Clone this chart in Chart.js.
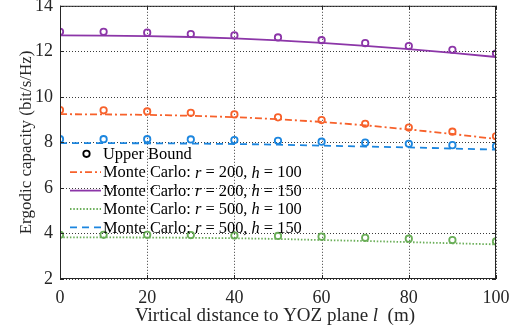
<!DOCTYPE html>
<html>
<head>
<meta charset="utf-8">
<script src="https://cdn.jsdelivr.net/npm/chart.js@4/dist/chart.umd.min.js"></script>
<style>
  html, body { margin: 0; padding: 0; background: #fff; }
  canvas { display: block; }
</style>
</head>
<body>
<canvas id="capacity-chart" width="515" height="335"></canvas>
<script>
// Vertical distance l (m)
const distance = [0, 10, 20, 30, 40, 50, 60, 70, 80, 90, 100];

// Upper bound (markers)
const boundR200H100 = [9.42, 9.41, 9.36, 9.30, 9.23, 9.10, 8.98, 8.82, 8.65, 8.47, 8.27];
const boundR200H150 = [12.86, 12.86, 12.82, 12.76, 12.70, 12.61, 12.49, 12.36, 12.23, 12.07, 11.90];
const boundR500H100 = [3.94, 3.94, 3.94, 3.93, 3.91, 3.89, 3.86, 3.81, 3.77, 3.71, 3.65];
const boundR500H150 = [8.14, 8.14, 8.14, 8.13, 8.10, 8.07, 8.03, 7.99, 7.94, 7.88, 7.83];

// Monte Carlo (lines)
const mcR200H100 = [9.24, 9.23, 9.21, 9.17, 9.11, 9.02, 8.90, 8.75, 8.57, 8.37, 8.15];
const mcR200H150 = [12.70, 12.69, 12.67, 12.63, 12.57, 12.48, 12.37, 12.24, 12.10, 11.93, 11.75];
const mcR500H100 = [3.83, 3.83, 3.82, 3.81, 3.79, 3.76, 3.71, 3.67, 3.62, 3.57, 3.52];
const mcR500H150 = [7.97, 7.97, 7.96, 7.95, 7.93, 7.90, 7.86, 7.82, 7.78, 7.73, 7.68];

const xTicks = [0, 20, 40, 60, 80, 100];
const yTicks = [2, 4, 6, 8, 10, 12, 14];

const ORANGE = '#f7612b';
const PURPLE = '#8c36a8';
const GREEN = '#6aae58';
const BLUE = '#1c86df';
const FONT = "'Liberation Serif', 'Times New Roman', serif";

const pts = (ys) => ys.map((y, i) => ({ x: distance[i], y }));

const markerSet = (ys, color) => ({
    data: pts(ys),
    showLine: false,
    pointStyle: 'circle',
    pointRadius: 3.2,
    pointBorderWidth: 1.8,
    pointBorderColor: color,
    pointBackgroundColor: 'rgba(0,0,0,0)',
    borderColor: color,
});

const lineSet = (ys, color, dash) => ({
    data: pts(ys),
    borderColor: color,
    borderWidth: 1.8,
    borderDash: dash,
    pointRadius: 0,
    tension: 0,
    fill: false,
});

const DASH_DOT = [7, 3, 2, 3];
const DOTTED = [1.5, 1.8];
const DASHED = [7, 5];

// Legend entries, drawn inside the axes box
const legendItems = [
    { kind: 'marker', color: '#000', parts: [['Upper Bound', false]] },
    { kind: 'line', color: ORANGE, dash: DASH_DOT,
      parts: [['Monte Carlo: ', false], ['r', true], [' = 200, ', false], ['h', true], [' = 100', false]] },
    { kind: 'line', color: PURPLE, dash: [],
      parts: [['Monte Carlo: ', false], ['r', true], [' = 200, ', false], ['h', true], [' = 150', false]] },
    { kind: 'line', color: GREEN, dash: DOTTED,
      parts: [['Monte Carlo: ', false], ['r', true], [' = 500, ', false], ['h', true], [' = 100', false]] },
    { kind: 'line', color: BLUE, dash: DASHED,
      parts: [['Monte Carlo: ', false], ['r', true], [' = 500, ', false], ['h', true], [' = 150', false]] },
];

function drawParts(ctx, parts, x, y, size) {
    let cx = x;
    parts.forEach(([text, italic]) => {
        ctx.font = `${italic ? 'italic ' : ''}${size}px ${FONT}`;
        ctx.fillText(text, cx, y);
        cx += ctx.measureText(text).width;
    });
    return cx;
}

function partsWidth(ctx, parts, size) {
    let w = 0;
    parts.forEach(([text, italic]) => {
        ctx.font = `${italic ? 'italic ' : ''}${size}px ${FONT}`;
        w += ctx.measureText(text).width;
    });
    return w;
}

// Dotted grid behind the data
const dottedGrid = {
    id: 'dottedGrid',
    beforeDatasetsDraw(chart) {
        const { ctx, chartArea: a, scales } = chart;
        ctx.save();
        ctx.strokeStyle = '#3a3a3a';
        ctx.lineWidth = 1;
        ctx.setLineDash([1, 2]);
        ctx.beginPath();
        xTicks.forEach((v) => {
            const x = Math.round(scales.x.getPixelForValue(v)) + 0.5;
            ctx.moveTo(x, a.top);
            ctx.lineTo(x, a.bottom);
        });
        yTicks.forEach((v) => {
            const y = Math.round(scales.y.getPixelForValue(v)) + 0.5;
            ctx.moveTo(a.left, y);
            ctx.lineTo(a.right, y);
        });
        ctx.stroke();
        ctx.restore();
    },
};

// Box, inward ticks, legend and x-axis title
const axesDecor = {
    id: 'axesDecor',
    afterDraw(chart) {
        const { ctx, chartArea: a, scales } = chart;
        ctx.save();

        ctx.strokeStyle = '#262626';
        ctx.lineWidth = 1;
        ctx.setLineDash([]);
        ctx.strokeRect(a.left + 0.5, a.top + 0.5, a.right - a.left - 1, a.bottom - a.top - 1);

        const tl = 4;
        ctx.beginPath();
        xTicks.forEach((v) => {
            const x = Math.round(scales.x.getPixelForValue(v)) + 0.5;
            ctx.moveTo(x, a.bottom); ctx.lineTo(x, a.bottom - tl);
            ctx.moveTo(x, a.top); ctx.lineTo(x, a.top + tl);
        });
        yTicks.forEach((v) => {
            const y = Math.round(scales.y.getPixelForValue(v)) + 0.5;
            ctx.moveTo(a.left, y); ctx.lineTo(a.left + tl, y);
            ctx.moveTo(a.right, y); ctx.lineTo(a.right - tl, y);
        });
        ctx.stroke();

        // legend
        const rowH = 18.4;
        const x0 = a.left + 10;
        const y0 = a.top + 148;
        ctx.textBaseline = 'middle';
        ctx.textAlign = 'left';
        legendItems.forEach((item, i) => {
            const y = y0 + i * rowH;
            if (item.kind === 'marker') {
                ctx.beginPath();
                ctx.setLineDash([]);
                ctx.lineWidth = 1.8;
                ctx.strokeStyle = item.color;
                ctx.arc(x0 + 16.5, y, 3.2, 0, Math.PI * 2);
                ctx.stroke();
            } else {
                ctx.beginPath();
                ctx.setLineDash(item.dash);
                ctx.lineWidth = 1.8;
                ctx.strokeStyle = item.color;
                ctx.moveTo(x0, y);
                ctx.lineTo(x0 + 31, y);
                ctx.stroke();
            }
            ctx.setLineDash([]);
            ctx.fillStyle = '#000';
            drawParts(ctx, item.parts, x0 + 33, y + 1, 16.4);
        });

        // x-axis title with italic l
        const titleParts = [['Virtical distance to YOZ plane ', false], ['l', true], ['  (m)', false]];
        const tw = partsWidth(ctx, titleParts, 19);
        const cx = (a.left + a.right) / 2 - 3;
        ctx.fillStyle = '#262626';
        drawParts(ctx, titleParts, cx - tw / 2, 316, 19);

        ctx.restore();
    },
};

new Chart(document.getElementById('capacity-chart'), {
    type: 'line',
    data: {
        datasets: [
            markerSet(boundR200H100, ORANGE),
            markerSet(boundR200H150, PURPLE),
            markerSet(boundR500H100, GREEN),
            markerSet(boundR500H150, BLUE),
            lineSet(mcR200H100, ORANGE, DASH_DOT),
            lineSet(mcR200H150, PURPLE, []),
            lineSet(mcR500H100, GREEN, DOTTED),
            lineSet(mcR500H150, BLUE, DASHED),
        ],
    },
    options: {
        responsive: false,
        animation: false,
        devicePixelRatio: 1,
        layout: { padding: { left: 0, right: 19, top: 4, bottom: 0 } },
        plugins: {
            legend: { display: false },
            tooltip: { enabled: false },
        },
        scales: {
            x: {
                type: 'linear',
                min: 0,
                max: 100,
                afterBuildTicks: (s) => { s.ticks = xTicks.map((v) => ({ value: v })); },
                afterFit: (s) => {
                    s.height = 56;
                    s.paddingLeft = 0;
                    s.paddingRight = 0;
                },
                grid: { display: false, drawTicks: false },
                border: { display: false },
                ticks: {
                    color: '#262626',
                    padding: 8,
                    maxRotation: 0,
                    font: { family: FONT, size: 18 },
                },
            },
            y: {
                min: 2,
                max: 14,
                afterBuildTicks: (s) => { s.ticks = yTicks.map((v) => ({ value: v })); },
                afterFit: (s) => {
                    s.width = 60;
                    s.paddingTop = 0;
                    s.paddingBottom = 0;
                },
                grid: { display: false, drawTicks: false },
                border: { display: false },
                title: {
                    display: true,
                    text: 'Ergodic capacity (bit/s/Hz)',
                    align: 'center',
                    color: '#262626',
                    font: { family: FONT, size: 17 },
                    padding: { top: 16, bottom: 0 },
                },
                ticks: {
                    color: '#262626',
                    padding: 7,
                    font: { family: FONT, size: 18 },
                },
            },
        },
    },
    plugins: [dottedGrid, axesDecor],
});
</script>
</body>
</html>
